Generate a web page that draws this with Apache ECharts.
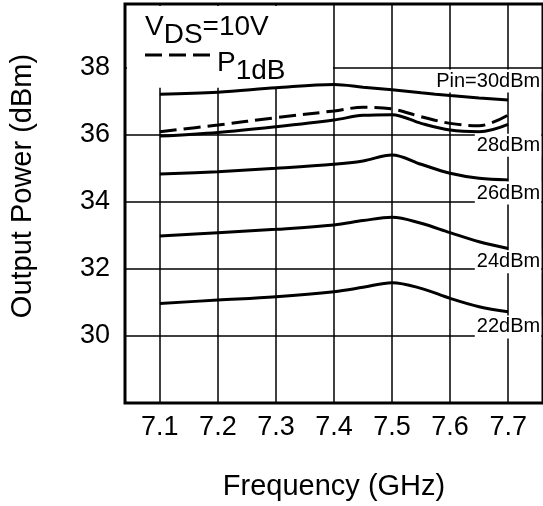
<!DOCTYPE html>
<html>
<head>
<meta charset="utf-8">
<script src="https://cdn.jsdelivr.net/npm/echarts@6/dist/echarts.min.js"></script>
<style>
html, body { margin: 0; padding: 0; background: #fff; }
#chart { width: 543px; height: 506px; }
</style>
</head>
<body>
<div id="chart"></div>
<script>
// frequency points (GHz)
var freq = [7.1, 7.2, 7.3, 7.4, 7.45, 7.5, 7.55, 7.6, 7.65, 7.7];

// output power (dBm) per input level
var pin30 = [37.21, 37.27, 37.40, 37.50, 37.42, 37.34, 37.25, 37.17, 37.10, 37.04];
var p1dB  = [36.09, 36.29, 36.51, 36.71, 36.82, 36.77, 36.54, 36.34, 36.27, 36.59];
var pin28 = [35.96, 36.07, 36.24, 36.44, 36.58, 36.60, 36.34, 36.14, 36.09, 36.31];
var pin26 = [34.83, 34.90, 35.00, 35.12, 35.22, 35.40, 35.12, 34.85, 34.70, 34.65];
var pin24 = [32.98, 33.08, 33.18, 33.31, 33.44, 33.54, 33.36, 33.08, 32.81, 32.61];
var pin22 = [30.97, 31.07, 31.17, 31.32, 31.45, 31.59, 31.42, 31.12, 30.87, 30.72];

// curve tags at the right edge and the level they sit at
var tagNames = ['Pin=30dBm', '28dBm', '26dBm', '24dBm', '22dBm'];
var tagLevels = [37.60, 35.69, 34.26, 32.21, 30.27];

var font = '"Liberation Sans", Arial, Helvetica, sans-serif';
var dash = [17, 7];

function pts(vals) {
    return freq.map(function (f, i) { return [f, vals[i]]; });
}

function curve(name, vals, dashed) {
    return {
        name: name,
        type: 'line',
        data: pts(vals),
        smooth: 0.35,
        symbol: 'none',
        z: 3,
        lineStyle: { color: '#000', width: 3, type: dashed ? dash : 'solid' },
        itemStyle: { color: '#000' }
    };
}

var chart = echarts.init(document.getElementById('chart'));

chart.setOption({
    animation: false,
    backgroundColor: '#fff',
    grid: {
        left: 124, top: 4, right: -1, bottom: 103,
        show: true, borderColor: '#000', borderWidth: 3, z: 0
    },
    xAxis: {
        type: 'value',
        min: 7.04, max: 7.76,
        splitNumber: 7, minInterval: 0.1, maxInterval: 0.1,
        name: 'Frequency (GHz)',
        nameLocation: 'middle',
        nameGap: 69,
        nameTextStyle: { color: '#000', fontSize: 29, fontFamily: font },
        axisLine: { show: false },
        axisTick: { show: false },
        axisLabel: {
            color: '#000', fontSize: 27, fontFamily: font, margin: 11,
            showMinLabel: false, showMaxLabel: false,
            formatter: function (v) { return v.toFixed(1); }
        },
        splitLine: { show: true, lineStyle: { color: '#000', width: 1.5 } }
    },
    yAxis: {
        type: 'value',
        min: 28, max: 39.9, interval: 2,
        name: 'Output Power (dBm)',
        nameLocation: 'middle',
        nameGap: 88,
        nameTextStyle: { color: '#000', fontSize: 29, fontFamily: font, padding: [0, 0, 0, 35] },
        axisLine: { show: false },
        axisTick: { show: false },
        axisLabel: {
            color: '#000', fontSize: 27, fontFamily: font, margin: 15,
            showMinLabel: false, showMaxLabel: false
        },
        splitLine: { show: true, lineStyle: { color: '#000', width: 1.5 } }
    },
    legend: {
        data: [{ name: 'P1dB', icon: 'none' }],
        left: 145, top: 49, padding: 0,
        itemWidth: 67, itemHeight: 14,
        formatter: '{p|P}{s|1dB}',
        textStyle: {
            color: '#000', fontFamily: font,
            rich: {
                p: { fontSize: 28, lineHeight: 28, verticalAlign: 'top', fontFamily: font },
                s: { fontSize: 28, lineHeight: 28, verticalAlign: 'top', padding: [8, 0, 0, 0], fontFamily: font }
            }
        },
        z: 5
    },
    series: [
        curve('Pin=30dBm', pin30, false),
        curve('P1dB', p1dB, true),
        curve('28dBm', pin28, false),
        curve('26dBm', pin26, false),
        curve('24dBm', pin24, false),
        curve('22dBm', pin22, false),
        {
            name: 'tags',
            type: 'custom',
            data: tagLevels.map(function (v, i) { return [7.7, v, i]; }),
            z: 4,
            silent: true,
            renderItem: function (params, api) {
                var p = api.coord([api.value(0), api.value(1)]);
                return {
                    type: 'text',
                    z2: 10,
                    style: {
                        text: tagNames[api.value(2)],
                        x: p[0] + 33,
                        y: p[1],
                        align: 'right',
                        verticalAlign: 'middle',
                        fill: '#000',
                        font: '20px ' + font,
                        backgroundColor: '#fff',
                        padding: [2, 1, 1, 2]
                    }
                };
            }
        }
    ]
});

// white box behind the legend, covering the grid in the upper left corner
var tl = chart.convertToPixel({ gridIndex: 0 }, [7.04, 39.9]);
var br = chart.convertToPixel({ gridIndex: 0 }, [7.4, 37.4]);

chart.setOption({
    graphic: [
        {
            type: 'rect',
            z: 1,
            shape: { x: tl[0] + 2, y: tl[1] + 2, width: br[0] - tl[0] - 3, height: br[1] - tl[1] - 2 },
            style: { fill: '#fff' },
            silent: true
        },
        {
            // dashed sample in front of the P1dB legend entry
            type: 'line',
            z: 5,
            shape: { x1: 145, y1: 55, x2: 212, y2: 55 },
            style: { stroke: '#000', lineWidth: 3, lineDash: dash }
        },
        {
            type: 'text',
            z: 5,
            left: 145, top: 13,
            style: {
                text: '{v|V}{s|DS}{v|=10V}',
                fill: '#000',
                font: '28px ' + font,
                rich: {
                    v: { fontSize: 28, lineHeight: 28, verticalAlign: 'top', fontFamily: font },
                    s: { fontSize: 28, lineHeight: 28, verticalAlign: 'top', padding: [8, 0, 0, 0], fontFamily: font }
                }
            }
        }
    ]
});

window.addEventListener('resize', function () {
    chart.resize();
});
</script>
</body>
</html>
